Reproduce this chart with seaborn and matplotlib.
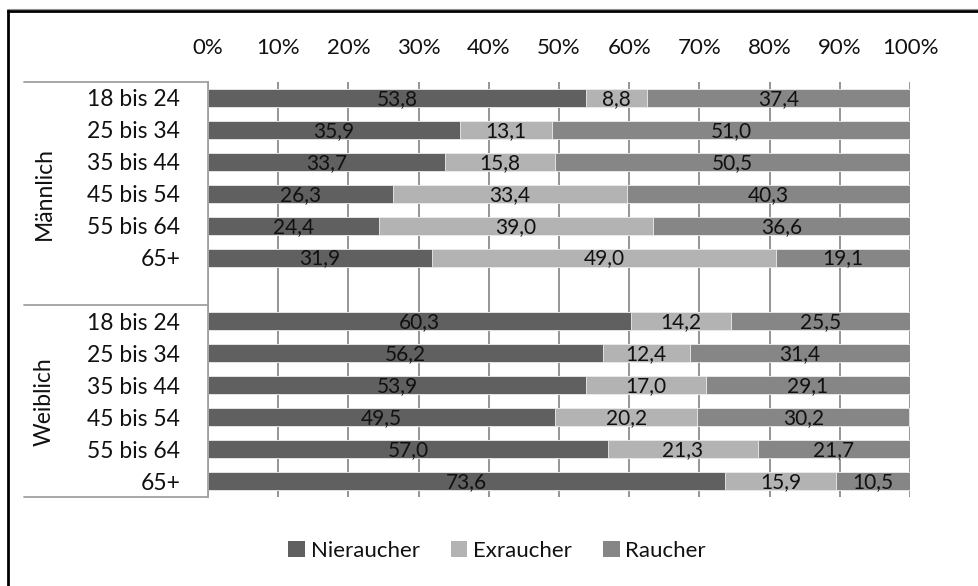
import matplotlib
matplotlib.use("Agg")
import matplotlib.pyplot as plt
from matplotlib.lines import Line2D
from matplotlib.patches import Patch
import matplotlib.transforms as mtransforms
import numpy as np
import pandas as pd
import seaborn as sns

# Smoking status by sex and age group (percent of each group)
age_groups = ["18 bis 24", "25 bis 34", "35 bis 44", "45 bis 54", "55 bis 64", "65+"]
sexes = ["Männlich", "Weiblich"]
series = ["Nieraucher", "Exraucher", "Raucher"]

nie_m = [53.8, 35.9, 33.7, 26.3, 24.4, 31.9]
ex_m = [8.8, 13.1, 15.8, 33.4, 39.0, 49.0]
rau_m = [37.4, 51.0, 50.5, 40.3, 36.6, 19.1]

nie_w = [60.3, 56.2, 53.9, 49.5, 57.0, 73.6]
ex_w = [14.2, 12.4, 17.0, 20.2, 21.3, 15.9]
rau_w = [25.5, 31.4, 29.1, 30.2, 21.7, 10.5]

x_ticks = [0, 10, 20, 30, 40, 50, 60, 70, 80, 90, 100]

colors = {"Nieraucher": "#606060", "Exraucher": "#b3b3b3", "Raucher": "#868686"}

# Long table: one row per sex/age group, plus an empty spacer level between sexes
rows = []
for sex, nie, ex, rau in [("Männlich", nie_m, ex_m, rau_m), ("Weiblich", nie_w, ex_w, rau_w)]:
    for age, a, b, c in zip(age_groups, nie, ex, rau):
        rows.append({"key": f"{sex} {age}", "sex": sex, "age": age,
                     "Nieraucher": a, "Exraucher": b, "Raucher": c})
df = pd.DataFrame(rows)
df["cum_nie"] = df["Nieraucher"]
df["cum_ex"] = df["Nieraucher"] + df["Exraucher"]
df["cum_rau"] = df["cum_ex"] + df["Raucher"]

order = [f"Männlich {a}" for a in age_groups] + ["spacer"] + [f"Weiblich {a}" for a in age_groups]
tick_text = age_groups + [""] + age_groups

sns.set_theme(style="white")
plt.rcParams["font.family"] = ["Lato", "DejaVu Sans"]

W, H = 979, 586
fig = plt.figure(figsize=(W / 100, H / 100), dpi=100)
left, right, top, bottom = 208, 910, 82, 497
ax = fig.add_axes([left / W, 1 - bottom / H, (right - left) / W, (bottom - top) / H])

bar_w = 0.56
edge = dict(edgecolor="#eeeeee", linewidth=0.6)
# Stacked bars: draw cumulative totals from the back to the front
for col, name in [("cum_rau", "Raucher"), ("cum_ex", "Exraucher"), ("cum_nie", "Nieraucher")]:
    sns.barplot(data=df, x=col, y="key", order=order, orient="h", color=colors[name],
                width=bar_w, saturation=1, errorbar=None, ax=ax, **edge)

ax.set_xlim(0, 100)
ax.set_ylim(12.5, -0.5)
ax.set_xlabel("")
ax.set_ylabel("")

# Percent axis along the top
ax.xaxis.tick_top()
ax.set_xticks(x_ticks)
ax.set_xticklabels([f"{t}%" for t in x_ticks], fontsize=16, color="#111111")
ax.tick_params(axis="x", length=0, pad=17)
ax.xaxis.grid(True, color="#8c8c8c", linewidth=1.3)
ax.set_axisbelow(True)

ax.set_yticks(range(len(order)))
ax.set_yticklabels(tick_text, fontsize=16.5, color="#111111")
ax.tick_params(axis="y", length=0, pad=20)

for s in ["top", "right", "bottom"]:
    ax.spines[s].set_visible(False)
ax.spines["left"].set_color("#a0a0a0")
ax.spines["left"].set_linewidth(1.3)

# Value labels centred in each segment
pos = {k: i for i, k in enumerate(order)}
for _, r in df.iterrows():
    y = pos[r["key"]]
    start = 0.0
    for name in series:
        v = r[name]
        ax.text(start + v / 2, y + 0.03, f"{v:.1f}".replace(".", ","), ha="center", va="center",
                fontsize=15, color="#111111")
        start += v

# Category table lines and sex labels on the left
trans = mtransforms.blended_transform_factory(ax.transAxes, ax.transData)
x0 = (24 - left) / (right - left)
for yy in [-0.5, 6.5, 12.5]:
    ax.add_line(Line2D([x0, 0], [yy, yy], transform=trans, color="#a0a0a0",
                       linewidth=1.3, clip_on=False))
xs = (44 - left) / (right - left)
ax.text(xs, 3.0, "Männlich", rotation=90, ha="center", va="center", transform=trans,
        fontsize=16.5, color="#111111")
ax.text(xs, 9.5, "Weiblich", rotation=90, ha="center", va="center", transform=trans,
        fontsize=16.5, color="#111111")

# Legend below the plot
handles = [Patch(facecolor=colors[s], edgecolor="none", label=s) for s in series]
fig.legend(handles=handles, loc="center", bbox_to_anchor=(497 / W, 1 - 551 / H), ncol=3,
           frameon=False, fontsize=16, handlelength=0.75, handleheight=0.75,
           handletextpad=0.25, columnspacing=1.4, labelcolor="#111111")

# Outer chart border (left and top edges)
fig.add_artist(Line2D([8.5 / W, 8.5 / W], [0, 1 - 10 / H], color="black", linewidth=2))
fig.add_artist(Line2D([8.5 / W, 1], [1 - 10.5 / H, 1 - 10.5 / H], color="black", linewidth=2))
fig.add_artist(Line2D([8.5 / W, 1], [1 - 9 / H, 1 - 9 / H], color="#909090", linewidth=0.8))

fig.savefig("out.png", dpi=100, facecolor="white")
